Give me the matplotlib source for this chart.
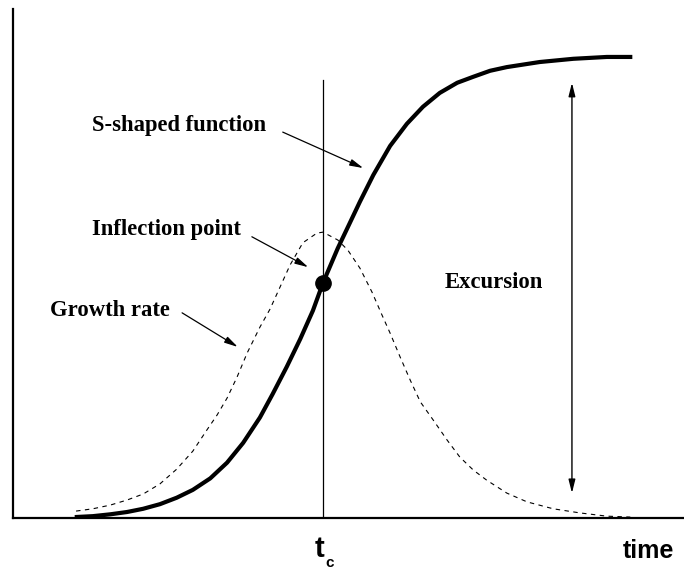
import matplotlib
matplotlib.use("Agg")
import matplotlib.pyplot as plt

# S-shaped function (time in arbitrary units, value in % of excursion)
s_time = [9.2, 11.9, 14.5, 17.0, 19.4, 21.9, 24.4, 26.8, 29.4, 31.9, 34.3, 36.8,
          38.7, 40.8, 42.8, 44.7, 46.2, 48.4, 50.2, 51.7, 53.7, 56.2, 58.7, 61.1,
          63.6, 66.2, 68.6, 71.1, 73.6, 78.5, 83.5, 88.5, 92.3]
s_value = [0.2, 0.4, 0.8, 1.3, 2.0, 3.0, 4.4, 6.1, 8.6, 12.0, 16.3, 21.8,
           26.9, 32.8, 38.8, 45.0, 51.0, 58.5, 64.0, 68.6, 74.4, 80.7, 85.5, 89.2,
           92.2, 94.4, 95.7, 97.0, 97.8, 98.9, 99.6, 100.0, 100.0]

# growth rate (dashed bell)
g_time = [9.4, 11.9, 14.5, 17.0, 19.4, 21.9, 24.4, 26.8, 28.9, 30.4, 31.9, 33.4,
          34.9, 36.8, 38.3, 39.8, 41.3, 43.2, 45.3, 46.2, 48.4, 49.9, 51.7, 53.5,
          55.0, 56.2, 57.7, 59.2, 60.7, 62.6, 64.7, 66.6, 68.6, 70.6, 73.6, 76.6,
          80.5, 84.5, 88.5, 92.0]
g_value = [1.5, 2.0, 2.8, 3.9, 5.2, 7.4, 10.6, 14.5, 19.1, 22.3, 26.0, 30.6,
           35.8, 41.4, 45.3, 50.1, 54.9, 59.7, 61.8, 62.0, 60.3, 58.1, 54.2, 49.0,
           44.0, 40.1, 34.9, 29.9, 25.2, 21.3, 16.9, 13.2, 10.4, 8.2, 5.4, 3.5,
           2.0, 1.1, 0.4, 0.2]

t_c = 46.2
inflection_value = 51.0
tc_line_top = 95.0
excursion_x = 83.3
excursion_range = (5.4, 94.4)

serif = "Liberation Serif"
sans = "Liberation Sans"

fig = plt.figure(figsize=(6.84, 5.69), dpi=100)
ax = fig.add_axes([13 / 684, 51 / 569, 671 / 684, 509 / 569])
ax.set_xlim(0, 100)
ax.set_ylim(0, 110.4)
for side in ["top", "right"]:
    ax.spines[side].set_visible(False)
ax.spines["left"].set_linewidth(1.6)
ax.spines["bottom"].set_linewidth(1.6)
ax.set_xticks([])
ax.set_yticks([])

# curves
ax.plot(g_time, g_value, color="black", lw=0.8, linestyle=(0, (4, 4)))
ax.plot(s_time, s_value, color="black", lw=3, solid_capstyle="butt",
        solid_joinstyle="round")
ax.plot([t_c, t_c], [0, tc_line_top], color="black", lw=0.9)
ax.plot([t_c], [inflection_value], "o", color="black", markersize=11)

# excursion double arrow
ax.annotate("", xy=(excursion_x, excursion_range[1]), xytext=(excursion_x, excursion_range[0]),
            arrowprops=dict(arrowstyle="<|-|>,head_width=0.2,head_length=0.8",
                            color="black", lw=1, shrinkA=0, shrinkB=0))

arrow = dict(arrowstyle="-|>,head_width=0.2,head_length=0.8", color="black", lw=0.9,
             shrinkA=0, shrinkB=0)
ax.annotate("", xy=(52.2, 75.9), xytext=(40.2, 83.7), arrowprops=arrow)
ax.annotate("", xy=(44.0, 54.4), xytext=(35.6, 61.0), arrowprops=arrow)
ax.annotate("", xy=(33.5, 37.1), xytext=(25.2, 44.5), arrowprops=arrow)

# labels
lab = dict(family=serif, fontweight="bold", fontsize=16.3, va="center", ha="left")
ax.text(11.8, 85.2, "S-shaped function", **lab)
ax.text(11.8, 62.5, "Inflection point", **lab)
ax.text(5.5, 45.1, "Growth rate", **lab)
ax.text(64.4, 51.0, "Excursion", **lab)

ax.text(t_c - 0.5, -8.5, "t", family=sans, fontweight="bold", fontsize=21,
        ha="center", va="baseline", clip_on=False)
ax.text(t_c + 1.0, -10.6, "c", family=sans, fontweight="bold", fontsize=11,
        ha="center", va="baseline", clip_on=False)
ax.text(98.5, -8.7, "time", family=sans, fontweight="bold", fontsize=18,
        ha="right", va="baseline", clip_on=False)

fig.savefig("out.png", dpi=100)
